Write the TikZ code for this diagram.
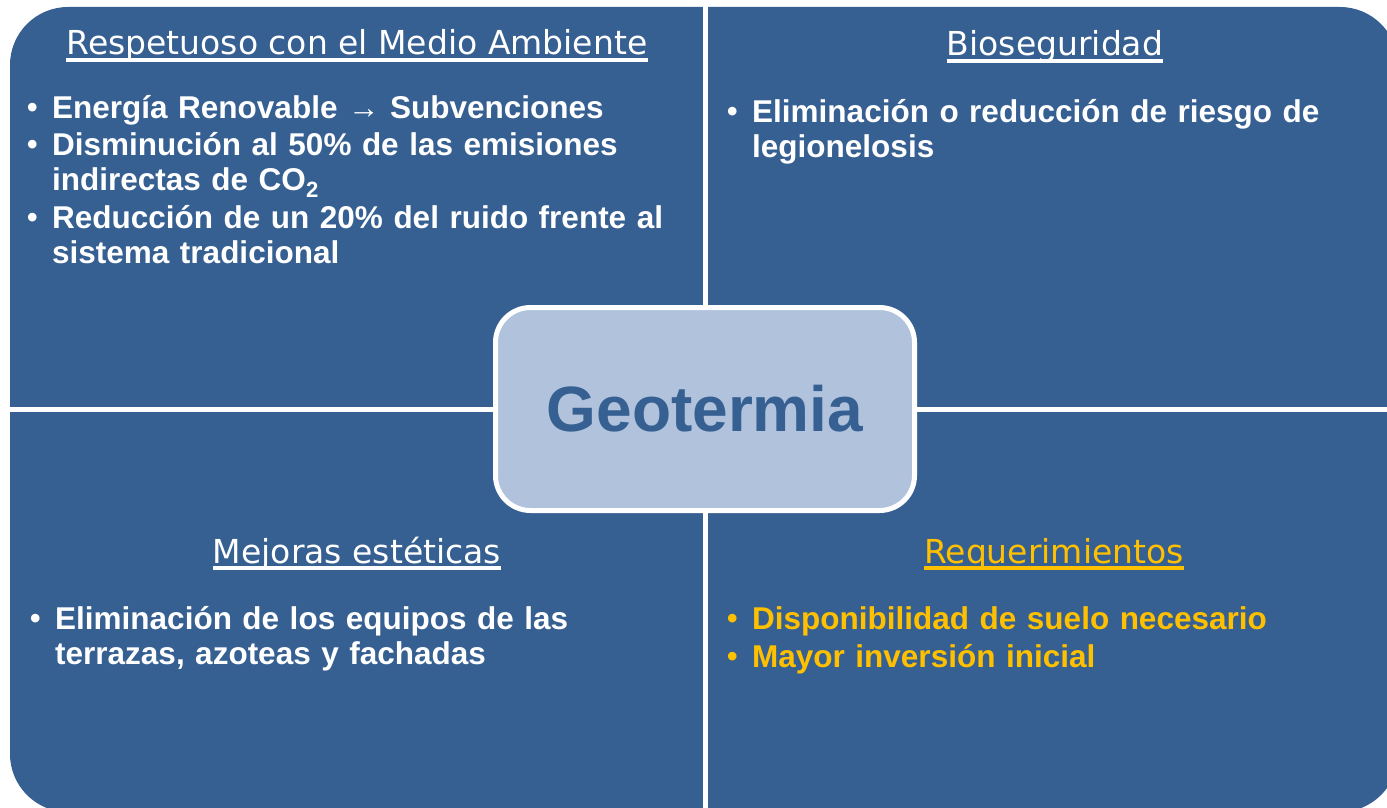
\documentclass[tikz,border=0pt]{standalone}
\usepackage{fontspec}
\setmainfont{Liberation Sans}
\newfontfamily\ttlfont{DejaVu Sans}
\usepackage{tikz}
\pgfdeclarelayer{bg}
\pgfsetlayers{bg,main}
\definecolor{quadblue}{RGB}{55,96,146}
\definecolor{coreblue}{RGB}{176,194,220}
\definecolor{reqgold}{RGB}{255,192,0}
\newcommand{\bul}[1]{\hyphenpenalty=10000\relax\noindent\hangindent=25pt\hangafter=1\makebox[25pt][l]{\fontsize{30}{30}\selectfont\raisebox{0.5pt}{•}}#1\par}
\tikzset{
        ttl/.style={anchor=base, inner sep=0pt, font=\ttlfont\fontsize{33}{38}\selectfont},
        uline/.style={line width=3.5pt},
        itm/.style={anchor=base west, inner sep=0pt, text width=680pt,
                font=\raggedright\fontsize{31.5}{35.5}\selectfont\bfseries},
        divider/.style={white, line width=5pt},
        core/.style={draw=white, line width=5pt, fill=coreblue, rounded corners=35pt,
                minimum width=419pt, minimum height=203pt, text=quadblue,
                font=\fontsize{64}{70}\selectfont\bfseries}
}
\begin{document}
\begin{tikzpicture}[x=1pt, y=-1pt, white]
        \useasboundingbox (0,0) rectangle (1387,808);
        \clip (0,0) rectangle (1387,808);
        \node (t1) [ttl] at (357, 55) {Respetuoso con el Medio Ambiente};
        \node (t2) [ttl] at (1055, 56) {Bioseguridad};
        \node (t3) [ttl] at (357, 563) {Mejoras estéticas};
        \node (t4) [ttl, text=reqgold] at (1054, 563) {Requerimientos};
        \node (a1) [itm] at (27, 118) {\bul{Energía Renovable → Subvenciones}};
        \node (a2) [itm] at (27, 155) {\bul{Disminución al 50\% de las emisiones\break indirectas de CO\textsubscript{2}}};
        \node (a3) [itm] at (27, 228) {\bul{Reducción de un 20\% del ruido frente al\break sistema tradicional}};
        \node (b1) [itm] at (727, 122) {\bul{Eliminación o reducción de riesgo de\break legionelosis}};
        \node (c1) [itm] at (30, 629) {\bul{Eliminación de los equipos de las\break terrazas, azoteas y fachadas}};
        \node (d1) [itm, text=reqgold] at (727, 629) {\bul{Disponibilidad de suelo necesario}};
        \node (d2) [itm, text=reqgold] at (727, 667) {\bul{Mayor inversión inicial}};
        \draw [uline] ([yshift=-5pt]t1.base west) -- ([yshift=-5pt]t1.base east);
        \draw [uline] ([yshift=-5pt]t2.base west) -- ([yshift=-5pt]t2.base east);
        \draw [uline] ([yshift=-5pt]t3.base west) -- ([yshift=-5pt]t3.base east);
        \draw [uline, reqgold] ([yshift=-5pt]t4.base west) -- ([yshift=-5pt]t4.base east);
        \begin{pgfonlayer}{bg}
                \fill [quadblue, rounded corners=58pt] (10,7) rectangle (1398,812);
                \draw [divider] (705.5,0) -- (705.5,808);
                \draw [divider] (0,409.5) -- (1387,409.5);
        \end{pgfonlayer}
        \node (geo) [core] at (705, 409) {Geotermia};
\end{tikzpicture}
\end{document}
